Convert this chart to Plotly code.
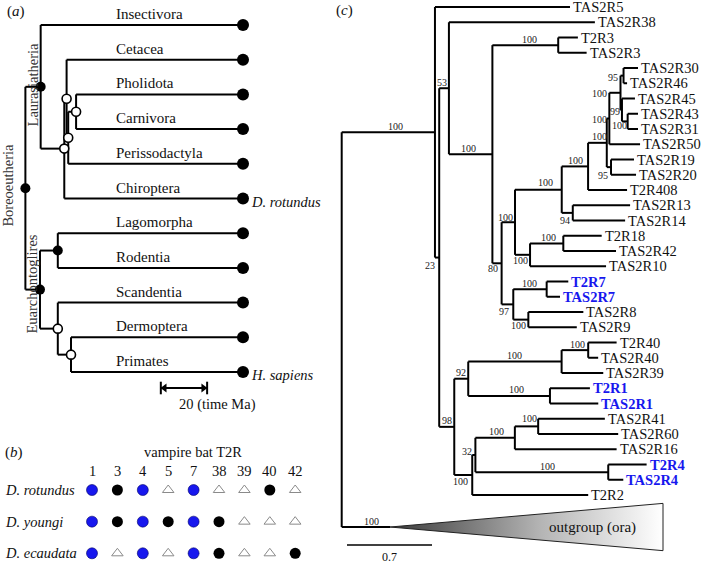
import re
import plotly.graph_objects as go

# ======================= DATA =======================
# (a) time tree of Boreoeutheria, branch lengths in Ma.
#     Named internal nodes are drawn as filled circles, nodes tagged "o" as open circles.
TREE_A = ("((Insectivora:87.4,((Cetacea:76.2,((Pholidota:72.1,Carnivora:72.1)o:3.4,"
          "Perissodactyla:75.5)o:0.7)o:1.0,Chiroptera:77.2)o:10.2)Laurasiatheria:6.6,"
          "((Lagomorpha:80,Rodentia:80)Glires:7.7,(Scandentia:80,(Dermoptera:74.3,"
          "Primates:74.3)o:5.7)o:7.7)Euarchontoglires:6.3)Boreoeutheria;")
CLADE_LABELS_A = ["Boreoeutheria", "Laurasiatheria", "Euarchontoglires"]
SPECIES_TIPS_A = {"Chiroptera": "D. rotundus", "Primates": "H. sapiens"}
SCALE_A_MA = 20

# (b) vampire bat T2R genes: B = intact (blue), K = intact (black), P = pseudogene
T2R_GENES = ["1", "3", "4", "5", "7", "38", "39", "40", "42"]
BAT_SPECIES = ["D. rotundus", "D. youngi", "D. ecaudata"]
STATUS_ROTUNDUS = ["B", "K", "B", "P", "B", "P", "P", "K", "P"]
STATUS_YOUNGI = ["B", "K", "B", "K", "B", "K", "P", "P", "P"]
STATUS_ECAUDATA = ["B", "P", "B", "P", "B", "K", "P", "P", "K"]

# (c) T2R gene tree (substitutions/site), bootstrap as internal labels
TREE_C = ("((TAS2R5:1.112,((TAS2R38:1.202,((T2R3:0.162,TAS2R3:0.234)100:0.542,"
          "((((((((TAS2R30:0.119,TAS2R46:0.029)95:0.025,(TAS2R45:0.107,"
          "(TAS2R43:0.085,TAS2R31:0.085)100:0.047)99:0.012)100:0.092,TAS2R50:0.253)100:0.021,"
          "(TAS2R19:0.189,TAS2R20:0.206)95:0.035)100:0.154,T2R408:0.321)100:0.217,"
          "(TAS2R13:0.472,TAS2R14:0.431)94:0.091)100:0.385,"
          "((T2R18:0.316,TAS2R42:0.434)100:0.274,TAS2R10:0.626)100:0.124)100:0.110,"
          "((T2R7:0.178,TAS2R7:0.110)100:0.275,(TAS2R8:0.453,TAS2R9:0.399)100:0.124)97:0.096)80:0.076"
          ")100:0.358)53:0.080,"
          "((((T2R40:0.234,TAS2R40:0.082)100:0.219,TAS2R39:0.343)100:0.769,"
          "(T2R1:0.329,TAS2R1:0.398)100:0.673)92:0.115,"
          "((((TAS2R41:0.549,TAS2R60:0.659)100:0.192,TAS2R16:0.838)100:0.325,"
          "(T2R4:0.316,TAS2R4:0.124)100:1.094)32:0.026,T2R2:0.955)100:0.148)98:0.124)23:0.035)100:0.768,"
          "outgroup:0.398);")
OUTGROUP_NAME = "outgroup"
OUTGROUP_TEXT = "outgroup (ora)"
OUTGROUP_SUPPORT = 100
OUTGROUP_DEPTH = 2.248
BLUE_LEAVES = ["T2R7", "TAS2R7", "T2R1", "TAS2R1", "T2R4", "TAS2R4"]
SCALE_C = 0.7

# ======================= STYLE / LAYOUT =======================
W, H = 702, 565
FONT = "Liberation Serif"
BLUE = "#1717ee"
# pixel mapping of each panel: px = offset + scale * value
A_X, A_Y = (243.0, -2.315), (25.0, 34.7)
B_X, B_Y = (92.0, 25.4), (490.0, 31.65)
C_X, C_Y = (341.7, 85.0 / 0.7), (7.0, 15.25)
OUTGROUP_ROWS = 3.1

# bootstrap label nudges (px) keyed by (first leaf, last leaf) of the clade
NUDGE = {
    ("TAS2R5", "T2R2"): (7, 0), ("TAS2R38", "T2R2"): (-7, 13.5),
    ("TAS2R38", "TAS2R9"): (-2, 0), ("T2R3", "TAS2R9"): (-2, 0),
    ("T2R3", "TAS2R3"): (4, 0), ("TAS2R30", "TAS2R9"): (-4, 11),
    ("TAS2R30", "TAS2R10"): (-3, 1), ("TAS2R30", "TAS2R14"): (7, -1),
    ("TAS2R30", "T2R408"): (1, 0), ("TAS2R30", "TAS2R20"): (2, 0),
    ("TAS2R30", "TAS2R50"): (-8.5, 6.5), ("TAS2R30", "TAS2R31"): (-15.4, 7),
    ("TAS2R30", "TAS2R46"): (-9, 8), ("TAS2R45", "TAS2R31"): (-6, 7.7),
    ("TAS2R43", "TAS2R31"): (-5, 10.3), ("TAS2R19", "TAS2R20"): (-6.4, 14),
    ("TAS2R13", "TAS2R14"): (-2, 13.6), ("T2R18", "TAS2R10"): (-2, 12),
    ("T2R18", "TAS2R42"): (2, 0), ("T2R7", "TAS2R9"): (-3.5, 13.6),
    ("TAS2R8", "TAS2R9"): (-2, 11.4), ("T2R40", "TAS2R40"): (2.5, 0),
    ("T2R1", "TAS2R1"): (7, 0), ("TAS2R41", "T2R2"): (-3, 13),
    ("TAS2R41", "TAS2R4"): (-7, 3), ("TAS2R41", "TAS2R16"): (1.5, 0),
    ("TAS2R41", "TAS2R60"): (3, -2), ("T2R4", "TAS2R4"): (6, 0),
}


def parse_newick(s):
    pos = 0

    def node():
        nonlocal pos
        children = []
        if s[pos] == "(":
            pos += 1
            while True:
                children.append(node())
                if s[pos] == ",":
                    pos += 1
                elif s[pos] == ")":
                    pos += 1
                    break
                else:
                    raise ValueError("bad newick at %d: %r" % (pos, s[pos:pos + 20]))
        m = re.match(r"[^:,();]*", s[pos:])
        label = m.group(0)
        pos += len(label)
        bl = 0.0
        if pos < len(s) and s[pos] == ":":
            pos += 1
            m = re.match(r"[0-9.eE+-]+", s[pos:])
            bl = float(m.group(0))
            pos += len(m.group(0))
        return {"label": label, "bl": bl, "children": children}

    if s.count("(") != s.count(")"):
        raise ValueError("unbalanced newick")
    return node()


def layout(root):
    counter = [0.0]
    last = [0.0]

    def rec(n, depth, parent):
        n["depth"] = depth + n["bl"]
        n["parent"] = parent
        if n["children"]:
            for c in n["children"]:
                rec(c, n["depth"], n)
            n["y"] = (n["children"][0]["y"] + n["children"][-1]["y"]) / 2
            n["first"] = n["children"][0]["first"]
            n["lastleaf"] = n["children"][-1]["lastleaf"]
        else:
            if n["label"] == OUTGROUP_NAME:
                n["y"] = last[0] + 0.55 + OUTGROUP_ROWS / 2
            else:
                n["y"] = counter[0]
                counter[0] += 1
                last[0] = n["y"]
            n["first"] = n["label"]
            n["lastleaf"] = n["label"]
    rec(root, -root["bl"], None)
    return root


def walk(n):
    yield n
    for c in n["children"]:
        yield from walk(c)


def segments(root, xf):
    xs, ys = [], []
    for n in walk(root):
        if n["children"]:
            x = xf(n)
            xs += [x, x, None]
            ys += [n["children"][0]["y"], n["children"][-1]["y"], None]
            for c in n["children"]:
                xs += [x, xf(c), None]
                ys += [c["y"], c["y"], None]
    return xs, ys


fig = go.Figure()
ann = []

# ---------------- panel (a) ----------------
ta = layout(parse_newick(TREE_A))
root_age = max(n["depth"] for n in walk(ta))
age = lambda n: root_age - n["depth"]
xs, ys = segments(ta, age)
fig.add_trace(go.Scatter(x=xs, y=ys, mode="lines", line=dict(color="black", width=2),
                         xaxis="x", yaxis="y", hoverinfo="skip"))
tips = [n for n in walk(ta) if not n["children"]]
filled = [n for n in walk(ta) if n["children"] and n["label"] != "o"]
opened = [n for n in walk(ta) if n["children"] and n["label"] == "o"]
fig.add_trace(go.Scatter(x=[age(n) for n in tips], y=[n["y"] for n in tips], mode="markers",
                         marker=dict(color="black", size=12), xaxis="x", yaxis="y"))
fig.add_trace(go.Scatter(x=[age(n) for n in filled], y=[n["y"] for n in filled], mode="markers",
                         marker=dict(color="black", size=10), xaxis="x", yaxis="y"))
fig.add_trace(go.Scatter(x=[age(n) for n in opened], y=[n["y"] for n in opened], mode="markers",
                         marker=dict(color="white", size=9, line=dict(color="black", width=1.6)),
                         xaxis="x", yaxis="y"))
label_col = (A_X[0] - 114) / -A_X[1]
for n in tips:
    ann.append(dict(x=label_col, y=n["y"], xref="x", yref="y", text=n["label"], showarrow=False,
                    xanchor="left", yanchor="middle", yshift=11, font=dict(size=15, color="#111")))
    if n["label"] in SPECIES_TIPS_A:
        ann.append(dict(x=age(n), y=n["y"], xref="x", yref="y", text="<i>%s</i>" % SPECIES_TIPS_A[n["label"]],
                        showarrow=False, xanchor="left", yanchor="middle", xshift=6, yshift=-3,
                        font=dict(size=14.5, color="#111")))
clade_shift = {"Boreoeutheria": (-17, 3), "Laurasiatheria": (-8, 2), "Euarchontoglires": (-8, 6)}
for n in walk(ta):
    if n["label"] in CLADE_LABELS_A:
        dx, dy = clade_shift[n["label"]]
        ann.append(dict(x=age(n), y=n["y"], xref="x", yref="y", text=n["label"], showarrow=False,
                        textangle=-90, xanchor="center", yanchor="middle", xshift=dx, yshift=dy,
                        font=dict(size=14.5, color="#333")))
# time scale bar
bar_y = (388 - A_Y[0]) / A_Y[1]
bar_x0 = 35.5
bar_x1 = bar_x0 - SCALE_A_MA
fig.add_trace(go.Scatter(x=[bar_x0, bar_x1], y=[bar_y, bar_y], mode="lines",
                         line=dict(color="black", width=2), xaxis="x", yaxis="y"))
fig.add_trace(go.Scatter(x=[bar_x0, bar_x1], y=[bar_y, bar_y], mode="markers",
                         marker=dict(symbol="line-ns", size=9, line=dict(color="black", width=2)),
                         xaxis="x", yaxis="y"))
fig.add_trace(go.Scatter(x=[bar_x0 - 1.6, bar_x1 + 1.6], y=[bar_y, bar_y], mode="markers",
                         marker=dict(symbol=["triangle-left", "triangle-right"], size=8, color="black"),
                         xaxis="x", yaxis="y"))
ann.append(dict(x=bar_x0 - 6.9, y=bar_y, xref="x", yref="y", text="%d (time Ma)" % SCALE_A_MA,
                showarrow=False, xanchor="left", yanchor="middle", yshift=-16,
                font=dict(size=14.5, color="#111")))

# ---------------- panel (b) ----------------
rows = [STATUS_ROTUNDUS, STATUS_YOUNGI, STATUS_ECAUDATA]
styles = {
    "B": dict(symbol="circle", size=11, color=BLUE, line=dict(color="#000066", width=0.6)),
    "K": dict(symbol="circle", size=11, color="black"),
    "P": dict(symbol="triangle-up-open", size=10, color="#8a8a8a", line=dict(width=1)),
}
for code, st in styles.items():
    px, py = [], []
    for r, row in enumerate(rows):
        for j, s in enumerate(row):
            if s == code:
                px.append(j)
                py.append(r)
    fig.add_trace(go.Scatter(x=px, y=py, mode="markers", marker=st, xaxis="x2", yaxis="y2"))
for j, g in enumerate(T2R_GENES):
    ann.append(dict(x=j, y=0, xref="x2", yref="y2", text=g, showarrow=False, yshift=19,
                    font=dict(size=14.5, color="#111")))
for r, sp in enumerate(BAT_SPECIES):
    ann.append(dict(x=(3 - B_X[0]) / B_X[1], y=r, xref="x2", yref="y2", text="<i>%s</i>" % sp,
                    showarrow=False, xanchor="left", yanchor="middle", font=dict(size=14.5, color="#111")))
ann.append(dict(x=(193 - B_X[0]) / B_X[1], y=0, xref="x2", yref="y2", text="vampire bat T2R",
                showarrow=False, yshift=38, font=dict(size=14.5, color="#111")))

# ---------------- panel (c) ----------------
tc = layout(parse_newick(TREE_C))
xs, ys = segments(tc, lambda n: n["depth"])
fig.add_trace(go.Scatter(x=xs, y=ys, mode="lines", line=dict(color="black", width=2),
                         xaxis="x3", yaxis="y3", hoverinfo="skip"))
og = [n for n in walk(tc) if n["label"] == OUTGROUP_NAME][0]
half = OUTGROUP_ROWS / 2
fig.add_trace(go.Scatter(
    x=[og["depth"], og["depth"] + OUTGROUP_DEPTH, og["depth"] + OUTGROUP_DEPTH, og["depth"]],
    y=[og["y"], og["y"] - half, og["y"] + half, og["y"]],
    mode="lines", fill="toself", line=dict(color="#222", width=1),
    fillgradient=dict(type="horizontal", colorscale=[[0, "#3a3a3a"], [0.55, "#b4b4b4"], [1, "#ffffff"]]),
    xaxis="x3", yaxis="y3"))
ann.append(dict(x=og["depth"] + OUTGROUP_DEPTH * 0.74, y=og["y"], xref="x3", yref="y3",
                text=OUTGROUP_TEXT, showarrow=False, font=dict(size=15, color="#111")))
for n in walk(tc):
    if not n["children"] and n["label"] != OUTGROUP_NAME:
        blue = n["label"] in BLUE_LEAVES
        ann.append(dict(x=n["depth"], y=n["y"], xref="x3", yref="y3",
                        text=("<b>%s</b>" % n["label"]) if blue else n["label"],
                        showarrow=False, xanchor="left", yanchor="middle", xshift=1,
                        font=dict(size=14.5, color=BLUE if blue else "#111")))
    if n["children"] and n["label"] and n["parent"] is not None:
        mid = (n["parent"]["depth"] + n["depth"]) / 2
        dx, dy = NUDGE.get((n["first"], n["lastleaf"]), (0, 0))
        ann.append(dict(x=mid, y=n["y"], xref="x3", yref="y3", text=n["label"], showarrow=False,
                        xshift=dx, yshift=6 - dy, font=dict(size=10, color="#222")))
ann.append(dict(x=og["bl"] / 2, y=og["y"], xref="x3", yref="y3", text=str(OUTGROUP_SUPPORT),
                showarrow=False, xshift=5.5, yshift=6, font=dict(size=10, color="#222")))
sb_x0 = (347 - C_X[0]) / C_X[1]
sb_y = (545 - C_Y[0]) / C_Y[1]
fig.add_trace(go.Scatter(x=[sb_x0, sb_x0 + SCALE_C], y=[sb_y, sb_y], mode="lines",
                         line=dict(color="black", width=1.6), xaxis="x3", yaxis="y3"))
ann.append(dict(x=sb_x0 + SCALE_C / 2, y=sb_y, xref="x3", yref="y3", text=str(SCALE_C),
                showarrow=False, yshift=-12, font=dict(size=12, color="#111")))

# panel letters
for letter, (px_, py_) in {"a": (16, 12), "b": (14, 452), "c": (344, 10)}.items():
    ann.append(dict(x=px_ / W, y=1 - py_ / H, xref="paper", yref="paper", text="(<i>%s</i>)" % letter,
                    showarrow=False, xanchor="center", yanchor="middle", font=dict(size=15, color="#111")))


def xr(m):
    return [(0 - m[0]) / m[1], (W - m[0]) / m[1]]


def yr(m):
    return [(H - m[0]) / m[1], (0 - m[0]) / m[1]]


ax = dict(visible=False, showgrid=False, zeroline=False, fixedrange=True)
fig.update_layout(
    width=W, height=H, autosize=False, showlegend=False,
    margin=dict(l=0, r=0, t=0, b=0, pad=0),
    paper_bgcolor="white", plot_bgcolor="white",
    font=dict(family=FONT, color="#111"),
    xaxis=dict(range=xr(A_X), **ax), yaxis=dict(range=yr(A_Y), **ax),
    xaxis2=dict(range=xr(B_X), overlaying="x", anchor="y2", **ax),
    yaxis2=dict(range=yr(B_Y), overlaying="y", anchor="x2", **ax),
    xaxis3=dict(range=xr(C_X), overlaying="x", anchor="y3", **ax),
    yaxis3=dict(range=yr(C_Y), overlaying="y", anchor="x3", **ax),
    annotations=ann,
)
fig.write_html("out.html", config={"displayModeBar": False},
               post_script="document.body.style.margin='0';document.body.style.overflow='hidden';")
